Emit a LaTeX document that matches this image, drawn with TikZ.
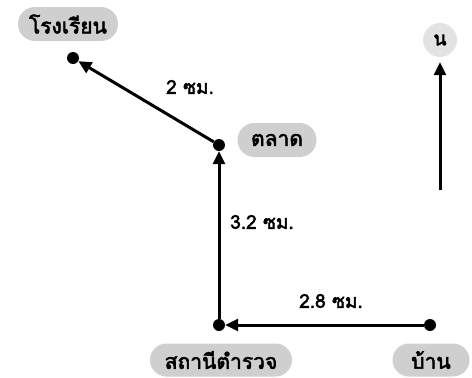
\documentclass[tikz,border=0pt]{standalone}
\usepackage{fontspec}
\newfontfamily\thaifont[Script=Thai,FakeBold=2.5]{Loma}
\usetikzlibrary{arrows.meta,shapes.misc}
\tikzset{
  place/.style={circle,fill=black,inner sep=0pt,minimum size=12pt},
  pill/.style={rounded rectangle,fill=gray!38,inner sep=0pt,font=\thaifont\fontsize{21}{24}\selectfont},
  dist/.style={font=\thaifont\fontsize{19}{22}\selectfont,inner sep=0pt},
  road/.style={line width=3pt,-{Triangle[length=13pt,width=12pt]}},
}
\begin{document}
\begin{tikzpicture}[x=1pt,y=-1pt]
\useasboundingbox (0,0) rectangle (472,378);
\node[place] (school) at (73,58) {};
\node[place] (market) at (219,145) {};
\node[place] (police) at (219,325) {};
\node[place] (home) at (430,325) {};
\node[pill,minimum width=100pt,minimum height=34pt] (lschool) at (68,24) {โรงเรียน};
\node[pill,minimum width=79pt,minimum height=34pt] (lmarket) at (277,140) {ตลาด};
\node[pill,minimum width=142pt,minimum height=33pt] (lpolice) at (221,360) {สถานีตำรวจ};
\node[pill,minimum width=77pt,minimum height=33pt] (lhome) at (431,360) {บ้าน};
\node[circle,fill=gray!22,minimum size=34pt,inner sep=0pt,font=\thaifont\fontsize{19}{22}\selectfont] (north) at (440,40) {น};
\coordinate (nbase) at (440,190);
\draw[road] (home) -- (police);
\draw[road] (police) -- (market);
\draw[road] (market) -- (school);
\draw[road,shorten >=5pt] (nbase) -- (north);
\node[dist] (d1) at (190,87) {2 ซม.};
\node[dist] (d2) at (262,222) {3.2 ซม.};
\node[dist] (d3) at (331,301) {2.8 ซม.};
\end{tikzpicture}
\end{document}
